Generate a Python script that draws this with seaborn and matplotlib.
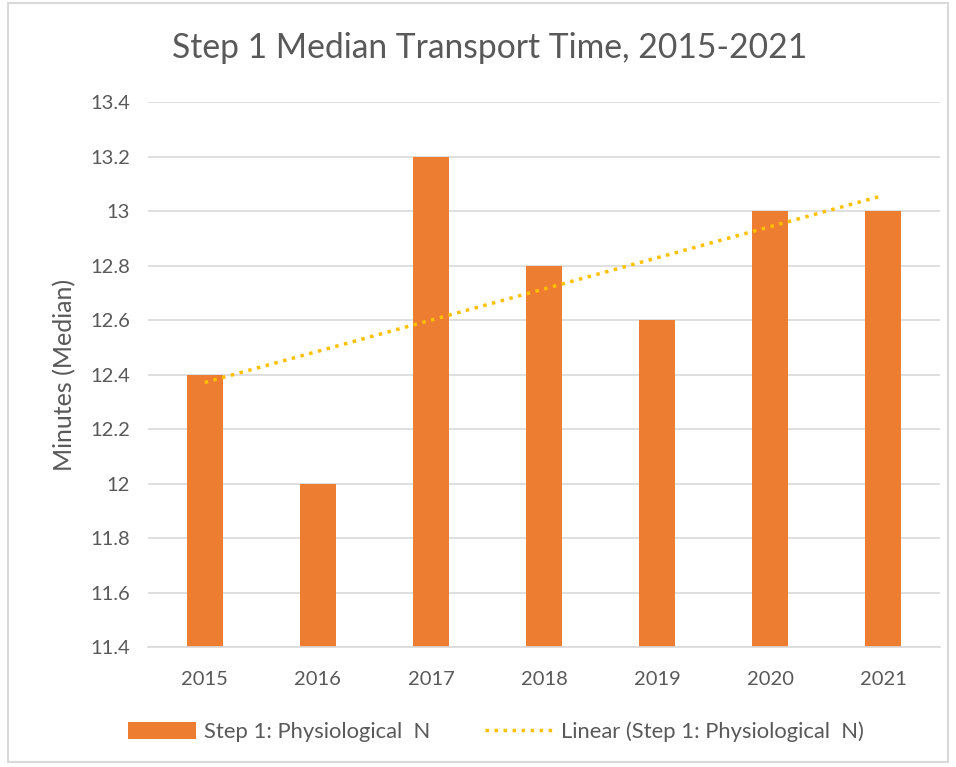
"""
Step 1 median transport time bar chart with linear trendline.
"""

import numpy as np
import pandas as pd
import matplotlib
import matplotlib.pyplot as plt
from matplotlib.patches import Rectangle
import seaborn as sns

matplotlib.use("Agg")

# Data
years = ["2015", "2016", "2017", "2018", "2019", "2020", "2021"]
minutes = [12.4, 12.0, 13.2, 12.8, 12.6, 13.0, 13.0]
y_ticks = [11.4, 11.6, 11.8, 12.0, 12.2, 12.4, 12.6, 12.8, 13.0, 13.2, 13.4]
y_tick_labels = ["11.4", "11.6", "11.8", "12", "12.2", "12.4", "12.6", "12.8", "13", "13.2", "13.4"]

BAR_COLOR = "#ED7D31"
TREND_COLOR = "#FFC000"
TEXT_COLOR = "#595959"
GRID_COLOR = "#D9D9D9"

sns.set_theme(style="white")
plt.rcParams["font.family"] = ["Lato", "DejaVu Sans"]

df = pd.DataFrame({"year": years, "minutes": minutes})

fig = plt.figure(figsize=(9.56, 7.67), dpi=100)
ax = fig.add_axes([0.155, 0.156, 0.828, 0.711])

sns.barplot(data=df, x="year", y="minutes", color=BAR_COLOR, saturation=1,
            width=0.32, linewidth=0, ax=ax, legend=False)

# Linear trendline over category positions
xs = np.arange(len(years))
slope, intercept = np.polyfit(xs + 1, minutes, 1)
trend, = ax.plot(xs, slope * (xs + 1) + intercept, color=TREND_COLOR,
                 linestyle=(0, (1, 1.6)), linewidth=2.5)

ax.set_ylim(11.4, 13.4)
ax.set_xlim(-0.5, len(years) - 0.5)
ax.set_yticks(y_ticks)
ax.set_yticklabels(y_tick_labels)
ax.yaxis.grid(True, color=GRID_COLOR, linewidth=1.2)
ax.set_axisbelow(True)
for side in ["top", "right", "left"]:
    ax.spines[side].set_visible(False)
ax.spines["bottom"].set_color(GRID_COLOR)
ax.spines["bottom"].set_linewidth(1.2)
ax.tick_params(axis="both", length=0, labelsize=14.5, colors=TEXT_COLOR)
ax.tick_params(axis="y", pad=13)
ax.tick_params(axis="x", pad=17)
ax.set_xlabel("")
ax.set_ylabel("Minutes (Median)", fontsize=18, color=TEXT_COLOR, labelpad=10)

fig.text(0.512, 0.937, "Step 1 Median Transport Time, 2015-2021",
         ha="center", va="center", fontsize=24.2, color=TEXT_COLOR)

bar_handle = Rectangle((0, 0), 1, 1, facecolor=BAR_COLOR, edgecolor="none")
leg = fig.legend([bar_handle, trend],
                 ["Step 1: Physiological  N", "Linear (Step 1: Physiological  N)"],
                 loc="center", bbox_to_anchor=(0.519, 0.046), ncol=2,
                 frameon=False, fontsize=15.8, handlelength=3.1, handleheight=0.8,
                 columnspacing=2.5, handletextpad=0.35)
for t in leg.get_texts():
    t.set_color(TEXT_COLOR)

# light chart border
fig.patches.append(Rectangle((0.008, 0.006), 0.984, 0.99, transform=fig.transFigure,
                             fill=False, edgecolor=GRID_COLOR, linewidth=1.5))

fig.savefig("out.png", dpi=100, facecolor="white")
